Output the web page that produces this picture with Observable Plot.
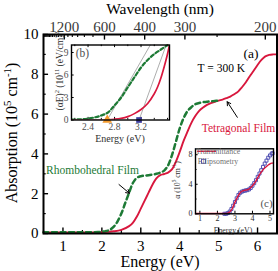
<!DOCTYPE html>
<html><head><meta charset="utf-8">
<script src="https://cdn.jsdelivr.net/npm/d3@7"></script>
<script src="https://cdn.jsdelivr.net/npm/@observablehq/plot@0.6"></script>
<style>
html,body{margin:0;padding:0;background:#fff;}
#wrap{position:relative;width:278px;height:271px;overflow:hidden;}
#wrap svg{position:absolute;font-family:"Liberation Serif","DejaVu Serif",serif !important;}
#wrap svg text{font-family:"Liberation Serif","DejaVu Serif",serif !important;}
</style></head>
<body><div id="wrap"></div>
<script>
// ---------- data ----------
const tetraE = [0.5,1.0,1.5,2.0,2.3,2.5,2.7,2.8,2.9,3.0,3.1,3.2,3.3,3.4,3.5,3.6,3.7,3.8,3.9,4.0,4.1,4.2,4.3,4.4,4.5,4.6,4.7,4.8,4.9,5.0,5.1,5.2,5.3,5.4,5.5,5.6,5.7,5.8,5.9,6.0,6.1,6.2,6.3,6.4,6.5];
const tetraA = [0.05,0.05,0.05,0.07,0.11,0.18,0.37,0.55,0.85,1.25,1.65,2.05,2.45,2.77,2.93,2.99,3.06,3.22,3.6,4.1,4.65,5.12,5.56,5.9,6.16,6.33,6.46,6.55,6.62,6.68,6.73,6.8,6.88,7.0,7.13,7.35,7.6,7.9,8.18,8.47,8.72,8.9,8.98,9.0,9.0];
const rhomboE = [0.5,1.0,1.5,1.9,2.1,2.2,2.3,2.4,2.5,2.6,2.7,2.8,2.9,3.0,3.1,3.2,3.3,3.4,3.5,3.6,3.7,3.8,3.9,4.0,4.1,4.2,4.3,4.4,4.5,4.6,4.7,4.8,4.9,5.0];
const rhomboA = [0.06,0.06,0.06,0.07,0.12,0.18,0.33,0.6,1.0,1.53,2.05,2.55,2.8,2.88,2.91,2.93,2.96,3.0,3.06,3.16,3.42,3.93,4.6,5.28,5.8,6.15,6.35,6.5,6.56,6.6,6.62,6.64,6.66,6.68];
const energyTicks = [1,2,3,4,5,6];
const energyMinor = [0.5,1.5,2.5,3.5,4.5,5.5];
const absTicks = [0,2,4,6,8,10];
const absMinor = [1,3,5,7,9];
const wlTicks = [1200,600,400,300,200];
const wlMinor = [2400,2300,2200,2100,2000,1900,1800,1700,1600,1500,1400,1300,1100,1000,900,800,700,500,250];

// inset (b): Tauc plot
const bGreenE = [2.15,2.3,2.4,2.5,2.6,2.7,2.8,2.9,3.0,3.1,3.2,3.3,3.4,3.5,3.6];
const bGreenV = [0.05,0.1,0.18,0.35,0.6,1.0,1.95,3.0,4.35,5.7,7.0,8.0,8.8,9.4,10.0];
const bRedE = [2.15,2.5,2.7,2.8,2.9,3.0,3.1,3.2,3.3,3.4,3.45,3.5,3.55,3.6,3.63];
const bRedV = [0,0,0.03,0.1,0.22,0.45,0.85,1.4,2.2,3.5,4.4,5.6,7.1,8.8,10.0];
const bFitGreen = [[2.69,0],[3.34,10]];
const bFitRed = [[3.17,0],[3.58,10]];
const bGapRhombo = 2.69, bGapTetra = 3.17;
const bXTicks = [2.4,2.8,3.2];
const bXMinor = [2.2,2.6,3.0,3.4,3.6];
const bYTicks = [0,3,6,9];

// inset (c): transmittance vs ellipsometry
const cTransE = [0.75,1.5,2.0,2.4,2.6,2.8,2.9,3.0,3.1,3.2,3.3,3.4,3.5,3.6,3.7,3.8,3.9,4.0,4.1,4.2,4.3,4.4,4.5,4.6,4.7,4.8,4.9,5.0,5.1,5.2];
const cTransV = [0.05,0.05,0.05,0.05,0.1,0.5,1.0,1.55,2.05,2.5,2.85,3.05,3.15,3.2,3.25,3.35,3.55,3.8,4.1,4.45,4.9,5.3,5.65,5.95,6.2,6.4,6.6,6.75,6.85,6.9];
const cEllE = [2.4,2.5,2.6,2.7,2.8,2.9,3.0,3.1,3.2,3.3,3.4,3.5,3.6,3.7,3.8,3.9,4.0,4.1,4.2,4.3,4.4,4.5,4.6,4.7,4.8,4.9,5.0,5.1,5.15];
const cEllV = [0,0,0.1,0.3,0.65,1.1,1.6,2.1,2.55,2.85,3.0,3.1,3.15,3.2,3.3,3.5,3.8,4.15,4.55,5.0,5.45,5.9,6.35,6.8,7.2,7.6,7.9,8.15,8.2];
const cXTicks = [1,2,3,4,5];
const cYTicks = [0,4,8];
const cYMinor = [2,6];

// ---------- helpers ----------
const SERIF = '"Liberation Serif", "DejaVu Serif", serif';
const RED = "#d8173d", GREEN = "#1d7a35", GREY = "#505050";
const zip = (xs, ys) => xs.map((x, i) => ({x, y: ys[i]}));

function rich(svg, str, {x, y, rotate = 0, size = 14, fill = "#000", anchor = "middle"}) {
  const t = d3.select(svg).append("text")
    .attr("transform", `translate(${x},${y}) rotate(${rotate})`)
    .attr("text-anchor", anchor).attr("font-family", SERIF)
    .attr("font-size", size).attr("fill", fill);
  const parts = str.split(/\^\{([^}]*)\}/);
  let shift = 0;
  parts.forEach((p, i) => {
    if (!p) return;
    const sup = i % 2 === 1;
    const target = sup ? -0.4 * size : 0;
    const ts = t.append("tspan").attr("dy", target - shift).text(p);
    if (sup) ts.attr("font-size", size * 0.68);
    shift = target;
  });
}
function place(svg, left, top) {
  svg.style.left = left + "px"; svg.style.top = top + "px";
  document.getElementById("wrap").appendChild(svg);
}

// ---------- main chart ----------
const main = Plot.plot({
  width: 278, height: 271,
  marginLeft: 43, marginRight: 1.5, marginTop: 34, marginBottom: 38,
  style: {fontFamily: SERIF, fontSize: "15px", background: "transparent", color: "#000"},
  x: {domain: [0.5, 6.5]},
  y: {domain: [0, 10]},
  marks: [
    Plot.ruleX(energyTicks, {y1: 0, y2: 0.28, stroke: "#000", strokeWidth: 1.4}),
    Plot.ruleX(energyMinor, {y1: 0, y2: 0.15, stroke: "#000", strokeWidth: 1.2}),
    Plot.ruleY(absTicks, {x1: 0.5, x2: 0.63, stroke: "#000", strokeWidth: 1.4}),
    Plot.ruleY(absMinor, {x1: 0.5, x2: 0.57, stroke: "#000", strokeWidth: 1.2}),
    Plot.ruleX(wlTicks.map(w => 1240 / w), {y1: 10, y2: 9.72, stroke: "#000", strokeWidth: 1.4}),
    Plot.ruleX(wlMinor.map(w => 1240 / w), {y1: 10, y2: 9.85, stroke: "#000", strokeWidth: 1.1}),
    Plot.axisX({anchor: "bottom", ticks: energyTicks, tickSize: 0, tickPadding: 7, label: null, tickFormat: d => String(d)}),
    Plot.axisY({anchor: "left", ticks: absTicks, tickSize: 0, tickPadding: 5, label: null, tickFormat: d => String(d)}),
    Plot.axisX({anchor: "top", ticks: wlTicks.map(w => 1240 / w), tickFormat: d => String(Math.round(1240 / d)),
      tickSize: 0, tickPadding: 3, label: null, fill: "#3a3a3a"}),
    Plot.line(zip(tetraE, tetraA), {x: "x", y: "y", stroke: RED, strokeWidth: 1.9, curve: "catmull-rom"}),
    Plot.line(zip(rhomboE, rhomboA), {x: "x", y: "y", stroke: GREEN, strokeWidth: 2.5, strokeDasharray: "5,3.5", curve: "catmull-rom"}),
    Plot.arrow([{x1: 5.48, y1: 5.84, x2: 5.22, y2: 6.62}, {x1: 2.44, y1: 2.46, x2: 2.71, y2: 2.02}],
      {x1: "x1", y1: "y1", x2: "x2", y2: "y2", stroke: "#000", strokeWidth: 1, headLength: 6}),
    Plot.text(["(a)"], {x: 5.83, y: 9.05, fontSize: 13.5, fill: "#000"}),
    Plot.text(["T = 300 K"], {x: 5.07, y: 8.29, fontSize: 11.5, fill: "#000"}),
    Plot.text(["Tetragonal Film"], {x: 5.51, y: 5.28, fontSize: 11.5, fill: RED}),
    Plot.text(["Rhombohedral Film"], {x: 1.76, y: 3.17, fontSize: 11.5, fill: GREEN}),
    Plot.frame({stroke: "#000", strokeWidth: 2})
  ]
});
rich(main, "Energy (eV)", {x: 160, y: 267, size: 16});
rich(main, "Wavelength (nm)", {x: 160, y: 14, size: 15.5});
rich(main, "Absorption (10^{5} cm^{-1})", {x: 17, y: 133, rotate: -90, size: 16});
place(main, 0, 0);

// ---------- inset (b) ----------
const insB = Plot.plot({
  width: 120, height: 102,
  marginLeft: 19, marginRight: 3, marginTop: 4.5, marginBottom: 22.5,
  style: {fontFamily: SERIF, fontSize: "9.5px", background: "transparent", overflow: "visible", color: GREY},
  x: {domain: [2.15, 3.63]},
  y: {domain: [0, 10]},
  marks: [
    Plot.frame({fill: "#fff", stroke: null}),
    Plot.ruleX(bXTicks, {y1: 0, y2: 0.35, stroke: "#000"}),
    Plot.ruleX(bXMinor, {y1: 0, y2: 0.22, stroke: "#000"}),
    Plot.ruleX(bXTicks, {y1: 10, y2: 9.65, stroke: "#000"}),
    Plot.ruleX(bXMinor, {y1: 10, y2: 9.78, stroke: "#000"}),
    Plot.ruleY(bYTicks, {x1: 2.15, x2: 2.19, stroke: "#000"}),
    Plot.axisX({anchor: "bottom", ticks: bXTicks, tickSize: 0, tickPadding: 3, label: null, tickFormat: d => d.toFixed(1)}),
    Plot.axisY({anchor: "left", ticks: bYTicks, tickSize: 0, tickPadding: 3, label: null, tickFormat: d => String(d)}),
    Plot.line(bFitGreen, {x: d => d[0], y: d => d[1], stroke: "#8a8a8a", strokeWidth: 0.7, clip: true}),
    Plot.line(bFitRed, {x: d => d[0], y: d => d[1], stroke: "#8a8a8a", strokeWidth: 0.7, clip: true}),
    Plot.line(zip(bGreenE, bGreenV), {x: "x", y: "y", stroke: GREEN, strokeWidth: 2.2, strokeDasharray: "3.5,2.5", curve: "catmull-rom", clip: true}),
    Plot.line(zip(bRedE, bRedV), {x: "x", y: "y", stroke: RED, strokeWidth: 1.7, curve: "catmull-rom", clip: true}),
    Plot.dot([bGapRhombo], {x: d => d, y: 0, symbol: "triangle", r: 3.6, fill: "#f39a2c", stroke: null}),
    Plot.dot([bGapTetra], {x: d => d, y: 0, symbol: "square", r: 3.2, fill: "#3b3b9c", stroke: null}),
    Plot.text(["(b)"], {x: 2.315, y: 8.87, fontSize: 11.5, fill: GREY}),
    Plot.frame({stroke: "#000", strokeWidth: 1.4})
  ]
});
rich(insB, "Energy (eV)", {x: 68, y: 101.5, size: 10, fill: "#303030"});
rich(insB, "(\u03B1E)^{2} (10^{11} (eV/cm)^{2}", {x: 11, y: 31, rotate: -90, size: 9.5, fill: "#303030"});
place(insB, 52, 40);

// ---------- inset (c) ----------
const insC = Plot.plot({
  width: 106, height: 90,
  marginLeft: 25, marginRight: 3, marginTop: 5.3, marginBottom: 19.7,
  style: {fontFamily: SERIF, fontSize: "8px", background: "transparent", overflow: "visible", color: "#303030"},
  x: {domain: [0.75, 5.2]},
  y: {domain: [0, 8.8]},
  marks: [
    Plot.frame({fill: "#fff", stroke: null}),
    Plot.ruleX(cXTicks, {y1: 0, y2: 0.35, stroke: "#000"}),
    Plot.ruleY(cYTicks, {x1: 0.75, x2: 0.9, stroke: "#000"}),
    Plot.ruleY(cYMinor, {x1: 0.75, x2: 0.84, stroke: "#000"}),
    Plot.axisX({anchor: "bottom", ticks: cXTicks, tickSize: 0, tickPadding: 2, label: null, tickFormat: d => String(d)}),
    Plot.axisY({anchor: "left", ticks: cYTicks, tickSize: 0, tickPadding: 3, label: null, tickFormat: d => String(d)}),
    Plot.dot(zip(cEllE, cEllV), {x: "x", y: "y", symbol: "square", r: 1.7, stroke: "#5252b4", strokeWidth: 1, fill: "none"}),
    Plot.line(zip(cTransE, cTransV), {x: "x", y: "y", stroke: RED, strokeWidth: 1.4, curve: "catmull-rom"}),
    Plot.text(["(c)"], {x: 4.8, y: 1.4, fontSize: 11, fill: GREY}),
    Plot.frame({stroke: "#000", strokeWidth: 1.4})
  ]
});
{
  const g = d3.select(insC).append("g");
  g.append("line").attr("x1", 27).attr("x2", 46).attr("y1", 8.3).attr("y2", 8.3).attr("stroke", RED).attr("stroke-width", 1.4);
  g.append("rect").attr("x", 31.5).attr("y", 16.3).attr("width", 4).attr("height", 4).attr("fill", "none").attr("stroke", "#5252b4");
  g.append("text").attr("x", 48).attr("y", 10.8).attr("font-family", SERIF).attr("font-size", 7.8).attr("fill", "#707070").text("Transmittance");
  g.append("text").attr("x", 48).attr("y", 21).attr("font-family", SERIF).attr("font-size", 7.8).attr("fill", "#707070").text("Ellipsometry");
}
rich(insC, "Energy (eV)", {x: 63, y: 89.5, size: 7.8, fill: "#303030"});
rich(insC, "\u03B1 (10^{5} cm^{-1})", {x: 9.5, y: 37, rotate: -90, size: 7.8, fill: "#303030"});
place(insC, 170, 143);
</script>
</body></html>
